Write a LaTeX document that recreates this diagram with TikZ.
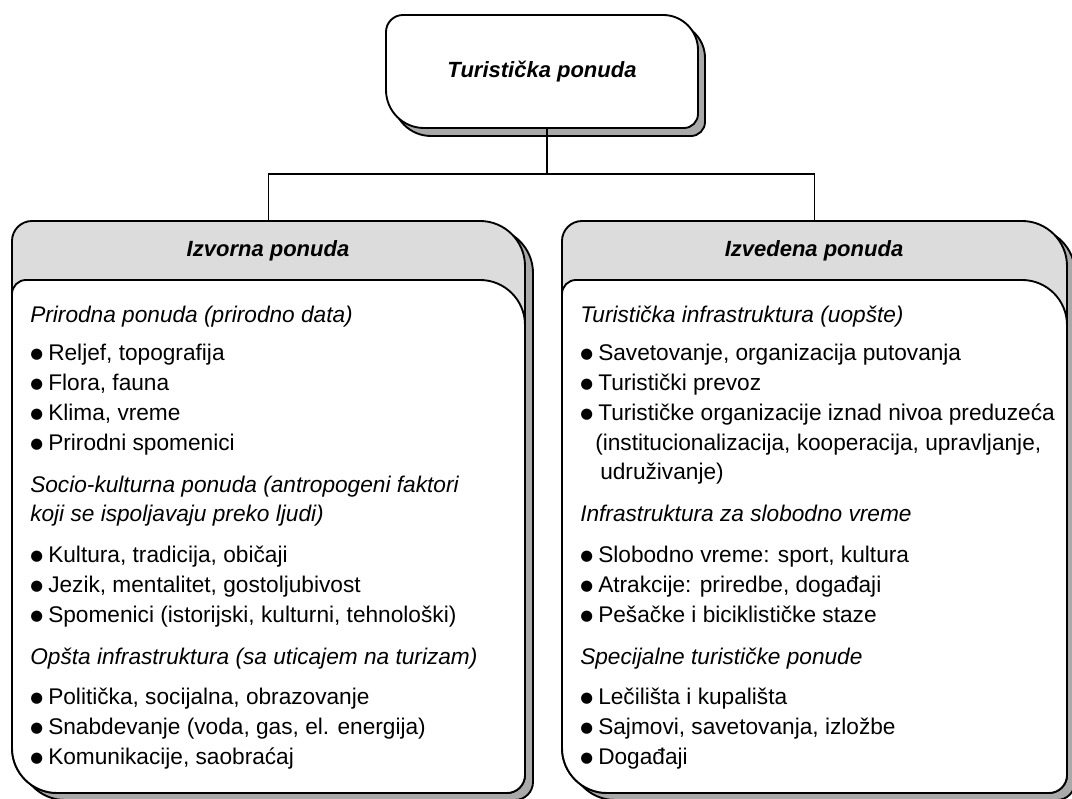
\documentclass[tikz,border=0pt]{standalone}
\usepackage{fontspec}
\setmainfont{Liberation Sans}
\newfontfamily\dejavu{DejaVu Sans}
\begin{document}
% rounded box with its own radius at every corner:
% #1 left x, #2 top y, #3 right x, #4 bottom y, radii #5 TL, #6 TR, #7 BR, #8 BL
\newcommand\rbox[8]{(#1,#2-#5) arc[start angle=180,end angle=90,radius=#5]
  -- (#3-#6,#2) arc[start angle=90,end angle=0,radius=#6]
  -- (#3,#4+#7) arc[start angle=0,end angle=-90,radius=#7]
  -- (#1+#8,#4) arc[start angle=270,end angle=180,radius=#8] -- cycle}
% white body under the grey heading band of a column box
\newcommand\rbody[6]{(#1,#2-14) arc[start angle=180,end angle=90,radius=14]
  -- (#3-45,#2) arc[start angle=90,end angle=0,radius=45]
  -- (#3,#4+#5) arc[start angle=0,end angle=-90,radius=#5]
  -- (#1+#6,#4) arc[start angle=270,end angle=180,radius=#6] -- cycle}
\newcommand\bul{\makebox[13.5pt][l]{\raisebox{2.2pt}{\dejavu\fontsize{11pt}{11pt}\selectfont ●}}}
\begin{tikzpicture}[x=0.75pt,y=0.75pt,
  outline/.style={draw=black,line width=1.4pt},
  shadowfill/.style={outline,fill=shade},
  headfill/.style={outline,fill=band},
  bodyfill/.style={outline,fill=white},
  conn/.style={draw=black,line width=1.4pt},
  area/.style={inner sep=0pt,outer sep=0pt},
  title/.style={font=\fontsize{16.5pt}{19pt}\selectfont\bfseries\itshape},
  head/.style={anchor=base west,font=\fontsize{17pt}{19pt}\selectfont\itshape,inner sep=0pt},
  item/.style={anchor=base west,font=\fontsize{17pt}{19pt}\selectfont,inner sep=0pt}]
\definecolor{shade}{HTML}{A9A9A9}
\definecolor{band}{HTML}{DCDCDC}
\useasboundingbox (0,0) rectangle (1072,799);

% ---------- top box ----------
\path[shadowfill] [shift={(7,-8)}] \rbox{386}{784}{698}{671}{17}{35}{14}{38};
\path[bodyfill] \rbox{386}{784}{698}{671}{17}{35}{14}{38};
\node[area,minimum width={312*0.75pt},minimum height={113*0.75pt}] (top) at (542,727.5) {};
\node[title] (toptext) at (542,727) {Turistička ponuda};

% ---------- left column box ----------
\path[shadowfill] [shift={(8,-7)}] \rbox{12}{578}{525}{6}{20}{45}{18}{45};
\path[headfill] \rbox{12}{578}{525}{6}{20}{45}{18}{45};
\path[bodyfill] \rbody{12}{519}{525}{6}{18}{45};
\node[area,minimum width={513*0.75pt},minimum height={572*0.75pt}] (izv) at (268.5,292) {};
\node[title] (izvtitle) at (268,548) {Izvorna ponuda};

% ---------- right column box ----------
\path[shadowfill] [shift={(8,-7)}] \rbox{562}{578}{1067}{6}{20}{45}{18}{45};
\path[headfill] \rbox{562}{578}{1067}{6}{20}{45}{18}{45};
\path[bodyfill] \rbody{562}{519}{1067}{6}{18}{45};
\node[area,minimum width={505*0.75pt},minimum height={572*0.75pt}] (izd) at (814.5,292) {};
\node[title] (izdtitle) at (814,548) {Izvedena ponuda};

% ---------- connectors ----------
\coordinate (bus) at (547,625);
\draw[conn] (bus |- top.south) -- (bus);
\draw[conn] (izv.north) |- (bus) -| (izd.north);

% ---------- left column text ----------
\node[head] (l1) at (30,476) {Prirodna ponuda (prirodno data)};
\node[item] (l2) at (30,438) {\bul Reljef, topografija};
\node[item] (l3) at (30,408) {\bul Flora, fauna};
\node[item] (l4) at (30,378) {\bul Klima, vreme};
\node[item] (l5) at (30,348) {\bul Prirodni spomenici};
\node[head] (l6) at (30,306) {Socio-kulturna ponuda (antropogeni faktori};
\node[head] (l7) at (30,277) {koji se ispoljavaju preko ljudi)};
\node[item] (l8) at (30,236) {\bul Kultura, tradicija, običaji};
\node[item] (l9) at (30,206) {\bul Jezik, mentalitet, gostoljubivost};
\node[item] (l10) at (30,176) {\bul Spomenici (istorijski, kulturni, tehnološki)};
\node[head] (l11) at (30,134) {Opšta infrastruktura (sa uticajem na turizam)};
\node[item] (l12) at (30,94) {\bul Politička, socijalna, obrazovanje};
\node[item] (l13) at (30,64) {\bul Snabdevanje (voda, gas, el. energija)};
\node[item] (l14) at (30,34) {\bul Komunikacije, saobraćaj};

% ---------- right column text ----------
\node[head] (r1) at (580,476) {Turistička infrastruktura (uopšte)};
\node[item] (r2) at (580,438) {\bul Savetovanje, organizacija putovanja};
\node[item] (r3) at (580,408) {\bul Turistički prevoz};
\node[item] (r4) at (580,378) {\bul Turističke organizacije iznad nivoa preduzeća};
\node[item] (r5) at (595,348) {(institucionalizacija, kooperacija, upravljanje,};
\node[item] (r6) at (600,319) {udruživanje)};
\node[head] (r7) at (580,277) {Infrastruktura za slobodno vreme};
\node[item] (r8) at (580,236) {\bul Slobodno vreme: sport, kultura};
\node[item] (r9) at (580,206) {\bul Atrakcije: priredbe, događaji};
\node[item] (r10) at (580,176) {\bul Pešačke i biciklističke staze};
\node[head] (r11) at (580,134) {Specijalne turističke ponude};
\node[item] (r12) at (580,94) {\bul Lečilišta i kupališta};
\node[item] (r13) at (580,64) {\bul Sajmovi, savetovanja, izložbe};
\node[item] (r14) at (580,34) {\bul Događaji};
\end{tikzpicture}
\end{document}
